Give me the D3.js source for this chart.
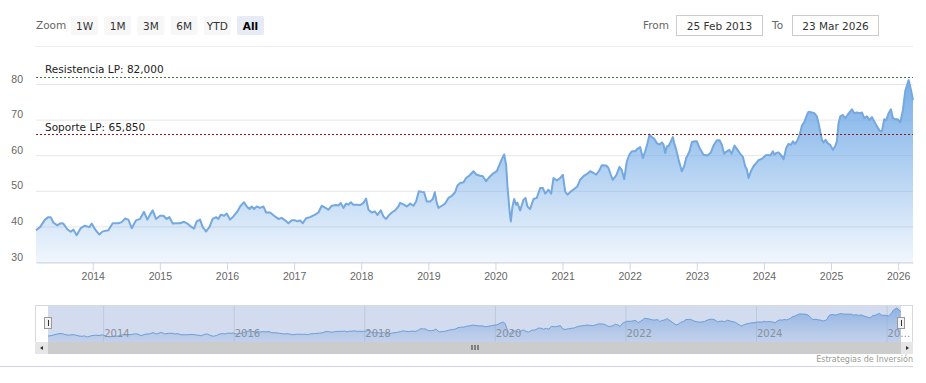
<!DOCTYPE html>
<html>
<head>
<meta charset="utf-8">
<script src="https://cdn.jsdelivr.net/npm/d3@7"></script>
<style>
  body { margin: 0; background: #fff; }
  svg { display: block; font-family: "DejaVu Sans", Verdana, sans-serif; }
</style>
</head>
<body>
<div id="chart"></div>
<script>
// price series as [decimal year, price]
const prices2013 = [
  [2013.155,38.9],[2013.215,39.8],[2013.289,41.9],[2013.339,42.6],[2013.374,42.6],[2013.413,41.1],[2013.473,40.3],
  [2013.523,40.9],[2013.562,40.8],[2013.622,39.2],[2013.672,38.5],[2013.712,39.1],[2013.761,37.5],[2013.821,39.5],
  [2013.885,40.2],[2013.950,39.8],[2013.985,40.8],[2014.034,39.2],[2014.099,37.7],[2014.149,38.6],[2014.233,38.9],
  [2014.298,40.9],[2014.382,40.9],[2014.432,41.2],[2014.481,42.2],[2014.531,41.9],[2014.581,39.5],[2014.645,41.7],
  [2014.705,42.1],[2014.764,44.1],[2014.814,41.9],[2014.854,43.3],[2014.894,44.5],[2014.943,42.1],[2015.003,43.0],
  [2015.053,43.0],[2015.102,42.1],[2015.142,42.6],[2015.192,40.8],[2015.252,40.9],[2015.301,40.9],[2015.361,41.3],
  [2015.411,40.8],[2015.460,40.0],[2015.510,39.4],[2015.549,41.4],[2015.599,41.9],[2015.639,39.8],[2015.689,38.6],
  [2015.738,39.8],[2015.788,42.1],[2015.838,42.6],[2015.872,42.1],[2015.907,43.3],[2015.957,43.0],[2015.997,43.6],
  [2016.046,41.9],[2016.096,42.8],[2016.156,44.2],[2016.196,45.6],[2016.255,46.8],[2016.295,45.6],[2016.335,44.9],
  [2016.369,45.6],[2016.404,44.9],[2016.444,45.6]
];
const prices2016 = [
  [2016.493,45.2],[2016.543,45.6],[2016.583,43.9],[2016.642,43.9],[2016.702,43.0],[2016.766,42.1],[2016.816,42.4],
  [2016.866,41.7],[2016.916,40.9],[2016.965,41.7],[2017.015,41.7],[2017.050,41.4],[2017.089,41.7],[2017.129,40.9],
  [2017.179,42.3],[2017.238,42.6],[2017.313,43.3],[2017.363,43.9],[2017.412,45.8],[2017.462,45.3],[2017.512,44.7],
  [2017.561,45.8],[2017.626,46.0],[2017.661,45.9],[2017.695,46.6],[2017.735,45.2],[2017.775,46.4],[2017.810,46.1],
  [2017.845,46.8],[2017.884,46.1],[2017.934,46.1],[2017.984,46.0],[2018.033,46.6],[2018.073,47.8],[2018.108,44.7],
  [2018.157,43.9],[2018.207,44.2],[2018.242,43.2],[2018.292,44.5],[2018.331,42.8],[2018.371,42.1],[2018.421,43.3],
  [2018.456,43.9],[2018.505,44.5],[2018.555,45.6],[2018.580,46.6],[2018.629,46.2],[2018.679,45.6],[2018.729,46.4],
  [2018.778,45.8],[2018.818,47.0],[2018.858,49.9],[2018.903,49.7],[2018.937,49.6],[2018.977,47.0],[2019.027,47.0],
  [2019.067,47.7],[2019.096,49.6],[2019.126,46.6],[2019.151,45.2],[2019.201,45.8],[2019.250,46.4],[2019.300,48.0],
  [2019.350,48.6],[2019.399,49.6],[2019.434,51.5],[2019.474,52.2],[2019.524,52.4],[2019.563,53.6],[2019.613,54.3],
  [2019.673,55.5],[2019.712,54.6],[2019.762,54.3],[2019.812,54.1],[2019.861,52.7],[2019.911,53.9],[2019.961,54.8]
];
const prices2020 = [
  [2020.020,55.5],[2020.060,57.3],[2020.095,58.9],[2020.130,60.2],[2020.159,57.3],[2020.179,51.3],[2020.209,44.7],
  [2020.229,41.4],[2020.254,45.6],[2020.279,47.7],[2020.308,46.1],[2020.328,46.6],[2020.368,44.5],[2020.418,47.5],
  [2020.448,48.0],[2020.477,45.6],[2020.517,44.9],[2020.567,47.7],[2020.616,48.0],[2020.666,50.8],[2020.706,50.8],
  [2020.741,49.2],[2020.790,50.3],[2020.830,49.2],[2020.865,53.6],[2020.915,52.9],[2020.964,53.6],[2021.004,54.5],
  [2021.039,49.8],[2021.073,48.9],[2021.123,49.8],[2021.173,50.5],[2021.222,51.3],[2021.262,53.1],[2021.312,54.1],
  [2021.372,54.8],[2021.411,55.5],[2021.461,55.0],[2021.501,54.5],[2021.550,55.8],[2021.585,57.2],[2021.650,57.1],
  [2021.684,56.4],[2021.719,54.5],[2021.749,53.1],[2021.799,54.3],[2021.848,56.7],[2021.883,55.8],[2021.918,53.3],
  [2021.958,58.3],[2021.997,60.2],[2022.032,61.1],[2022.082,61.1],[2022.117,61.8],[2022.156,62.3],[2022.196,59.2],
  [2022.231,61.1],[2022.266,63.4],[2022.296,65.8],[2022.330,65.1],[2022.365,64.6],[2022.405,63.4],[2022.445,63.0],
  [2022.480,63.6],[2022.504,63.0],[2022.529,60.6],[2022.554,62.5],[2022.579,62.5],[2022.614,63.9],[2022.643,65.1],
  [2022.663,63.4],[2022.693,61.6],[2022.728,58.8],[2022.777,55.5],[2022.812,56.9],[2022.842,59.2],[2022.892,61.1],
  [2022.927,63.7],[2022.976,63.9],[2023.001,63.9],[2023.041,62.0]
];
const prices2023 = [
  [2023.100,60.1],[2023.160,59.9],[2023.210,60.8],[2023.249,62.7],[2023.299,64.2],[2023.339,64.2],[2023.374,62.9],
  [2023.408,60.4],[2023.448,61.1],[2023.483,61.5],[2023.518,60.4],[2023.562,62.7],[2023.607,61.5],[2023.647,60.4],
  [2023.687,59.5],[2023.721,56.9],[2023.746,56.0],[2023.771,53.6],[2023.806,55.5],[2023.845,56.9],[2023.885,57.8],
  [2023.920,58.6],[2023.955,58.9],[2023.985,59.2],[2024.019,59.9],[2024.059,60.1],[2024.094,59.9],[2024.134,61.1],
  [2024.154,60.1],[2024.183,60.6],[2024.218,60.8],[2024.253,60.1],[2024.293,58.9],[2024.332,62.0],[2024.367,63.2],
  [2024.402,62.9],[2024.432,63.9],[2024.466,63.2],[2024.501,64.3],[2024.531,65.7],[2024.566,68.3],[2024.600,69.2],
  [2024.640,71.3],[2024.665,72.2],[2024.715,72.0],[2024.750,71.8],[2024.789,70.9],[2024.814,69.0],[2024.839,66.7],
  [2024.864,64.3],[2024.888,63.6],[2024.918,64.3],[2024.948,63.4],[2024.988,62.9],[2025.028,61.5],[2025.063,62.6],
  [2025.087,63.9],[2025.112,69.0],[2025.137,70.9],[2025.177,71.3],[2025.212,70.4],[2025.246,71.3],[2025.286,72.3],
  [2025.311,72.9],[2025.346,71.8],[2025.386,72.0],[2025.425,71.8],[2025.460,72.0],[2025.495,70.4],[2025.535,70.9],
  [2025.574,69.9],[2025.609,70.7],[2025.644,69.5],[2025.684,68.1],[2025.723,66.9],[2025.758,66.7],[2025.793,70.1],
  [2025.823,69.9],[2025.858,71.8],[2025.892,72.9],[2025.922,70.4],[2025.957,70.1],[2025.992,70.1],[2026.032,69.2],
  [2026.071,72.7],[2026.106,78.1],[2026.156,81.1],[2026.191,78.3],[2026.221,75.5]
];

const yTicks = [30, 40, 50, 60, 70, 80];
const xTicks = [2014, 2015, 2016, 2017, 2018, 2019, 2020, 2021, 2022, 2023, 2024, 2025, 2026];
const navTicks = [2014, 2016, 2018, 2020, 2022, 2024, 2026];
const levelNames = ["Resistencia LP: 82,000", "Soporte LP: 65,850"];
const levelValues = [82, 65.85];
const zoomButtons = ["1W", "1M", "3M", "6M", "YTD", "All"];
const rangeDates = ["25 Feb 2013", "23 Mar 2026"];
const credit = "Estrategias de Inversión";

const data = prices2013.concat(prices2016, prices2020, prices2023);

var width = 926, height = 383;
var plot = { left: 36, right: 913, top: 66.2, bottom: 262 };
var nav = { left: 48, right: 901, top: 305, bottom: 342 };
var fontSize = 10.5;

const svg = d3.select("#chart").append("svg")
  .attr("width", width)
  .attr("height", height);

const defs = svg.append("defs");
const grad = defs.append("linearGradient")
  .attr("id", "areaFill")
  .attr("gradientUnits", "userSpaceOnUse")
  .attr("x1", 0).attr("x2", 0)
  .attr("y1", plot.top).attr("y2", plot.bottom);
grad.append("stop").attr("offset", 0).attr("stop-color", "rgb(110,168,230)").attr("stop-opacity", 1);
grad.append("stop").attr("offset", 1).attr("stop-color", "rgb(110,168,230)").attr("stop-opacity", 0.1);

const navGrad = defs.append("linearGradient")
  .attr("id", "navFill")
  .attr("gradientUnits", "userSpaceOnUse")
  .attr("x1", 0).attr("x2", 0)
  .attr("y1", nav.top).attr("y2", nav.bottom);
navGrad.append("stop").attr("offset", 0).attr("stop-color", "#6f9fdc").attr("stop-opacity", 0.75);
navGrad.append("stop").attr("offset", 1).attr("stop-color", "#8fb0e0").attr("stop-opacity", 0.25);

// scales
var x = d3.scaleLinear()
  .domain(d3.extent(data, (d) => d[0]))
  .range([plot.left, plot.right]);

var y = d3.scaleLinear()
  .domain([30, 85])
  .range([plot.bottom, plot.top]);

// ---- range selector ----
svg.append("text")
  .attr("x", 36).attr("y", 29)
  .attr("font-size", fontSize)
  .attr("fill", "#666")
  .text("Zoom");

var btn = svg.append("g").selectAll("g")
  .data(zoomButtons)
  .join("g")
  .attr("transform", (d, i) => `translate(${71 + i * 33.2},16)`);

btn.append("rect")
  .attr("width", 27).attr("height", 19).attr("rx", 2)
  .attr("fill", (d) => (d === "All" ? "#e6ebf5" : "#f7f7f7"));

btn.append("text")
  .attr("x", 13.5).attr("y", 13.5)
  .attr("text-anchor", "middle")
  .attr("font-size", fontSize)
  .attr("font-weight", (d) => (d === "All" ? "bold" : "normal"))
  .attr("fill", (d) => (d === "All" ? "#000" : "#333"))
  .text((d) => d);

// From / To boxes
var dateBox = svg.append("g");
[["From", 643, 676], ["To", 772, 792]].forEach((b, i) => {
  dateBox.append("text")
    .attr("x", b[1]).attr("y", 29)
    .attr("font-size", fontSize)
    .attr("fill", "#666")
    .text(b[0]);
  dateBox.append("rect")
    .attr("x", b[2] + 0.5).attr("y", 15.5)
    .attr("width", 86).attr("height", 20)
    .attr("fill", "#fff")
    .attr("stroke", "#ccc");
  dateBox.append("text")
    .attr("x", b[2] + 43.5).attr("y", 29.5)
    .attr("text-anchor", "middle")
    .attr("font-size", fontSize)
    .attr("fill", "#333")
    .text(rangeDates[i]);
});

svg.append("line")
  .attr("x1", 35).attr("x2", 913)
  .attr("y1", 46.5).attr("y2", 46.5)
  .attr("stroke", "#eeeeee");

// ---- grid + y axis ----
svg.append("g")
  .attr("transform", `translate(${plot.left},0)`)
  .call(d3.axisLeft(y).tickValues(yTicks).tickSize(-(plot.right - plot.left)))
  .call((g) => g.select(".domain").remove())
  .call((g) => g.selectAll(".tick line").attr("stroke", "#e6e6e6"))
  .call((g) =>
    g.selectAll(".tick text")
      .attr("x", -13)
      .attr("dy", -2)
      .attr("fill", "#666")
      .attr("font-size", fontSize)
      .attr("font-family", null)
  );

// ---- area + line ----
var area = d3.area()
  .x((d) => x(d[0]))
  .y0(plot.bottom)
  .y1((d) => y(d[1]));

var line = d3.line()
  .x((d) => x(d[0]))
  .y((d) => y(d[1]));

svg.append("path")
  .datum(data)
  .attr("d", area)
  .attr("fill", "url(#areaFill)");

svg.append("path")
  .datum(data)
  .attr("d", line)
  .attr("fill", "none")
  .attr("stroke", "#74a8df")
  .attr("stroke-width", 2)
  .attr("stroke-linejoin", "round");

// ---- x axis ----
svg.append("g")
  .attr("transform", `translate(0,${plot.bottom + 0.5})`)
  .call(d3.axisBottom(x).tickValues(xTicks).tickFormat(d3.format("d")).tickSize(8).tickSizeOuter(0))
  .call((g) => g.select(".domain").attr("stroke", "#ccd6eb"))
  .call((g) => g.selectAll(".tick line").attr("stroke", "#ccd6eb"))
  .call((g) =>
    g.selectAll(".tick text")
      .attr("y", 17)
      .attr("dy", 0)
      .attr("fill", "#666")
      .attr("font-size", fontSize)
      .attr("font-family", null)
  );

// ---- plot lines (support / resistance) ----
var levelColors = ["#3b7a35", "#8c1b1b"];
var lv = svg.append("g").selectAll("g")
  .data(levelValues)
  .join("g");

lv.append("line")
  .attr("x1", plot.left).attr("x2", plot.right)
  .attr("y1", (d) => Math.round(y(d)) + 0.5)
  .attr("y2", (d) => Math.round(y(d)) + 0.5)
  .attr("stroke", (d, i) => levelColors[i])
  .attr("stroke-width", 1)
  .attr("stroke-dasharray", "2,2");

lv.append("text")
  .attr("x", 45)
  .attr("y", (d) => y(d) - 3.5)
  .attr("font-size", fontSize)
  .attr("fill", "#222")
  .text((d, i) => levelNames[i]);

// ---- navigator ----
var nx = d3.scaleLinear()
  .domain(x.domain())
  .range([nav.left, nav.right]);

var ny = d3.scaleLinear()
  .domain(d3.extent(data, (d) => d[1]))
  .range([nav.bottom - 5, nav.top + 3]);

svg.append("rect")
  .attr("x", nav.left).attr("y", nav.top)
  .attr("width", nav.right - nav.left)
  .attr("height", nav.bottom - nav.top)
  .attr("fill", "#d3dcef");

svg.append("g")
  .attr("transform", `translate(0,${nav.bottom})`)
  .call(d3.axisBottom(nx).tickValues(navTicks).tickFormat(d3.format("d")).tickSize(-(nav.bottom - nav.top)))
  .call((g) => g.select(".domain").remove())
  .call((g) => g.selectAll(".tick line").attr("stroke", "#bfc8dc"));

svg.append("path")
  .datum(data)
  .attr("d", d3.area().x((d) => nx(d[0])).y0(nav.bottom).y1((d) => ny(d[1])))
  .attr("fill", "url(#navFill)");

svg.append("path")
  .datum(data)
  .attr("d", d3.line().x((d) => nx(d[0])).y((d) => ny(d[1])))
  .attr("fill", "none")
  .attr("stroke", "#6d9dd8")
  .attr("stroke-width", 1);

// navigator labels drawn on top, last one clipped like the original
svg.append("g").selectAll("text")
  .data(navTicks)
  .join("text")
  .attr("x", (d) => nx(d) + 1)
  .attr("y", nav.bottom - 5)
  .attr("font-size", 10)
  .attr("fill", "#8a8f9a")
  .text((d, i) => (i === navTicks.length - 1 ? String(d).slice(0, 2) + "…" : d));

// outline
svg.append("rect")
  .attr("x", 35.5).attr("y", nav.top + 0.5)
  .attr("width", 877).attr("height", 354 - nav.top - 1)
  .attr("fill", "none")
  .attr("stroke", "#d6d9e0");

// handles
[nav.left, nav.right].forEach((hx) => {
  svg.append("rect")
    .attr("x", hx - 3.5).attr("y", 317.5)
    .attr("width", 7).attr("height", 11)
    .attr("fill", "#f2f2f2")
    .attr("stroke", "#999");
  svg.append("line")
    .attr("x1", hx + 0.5).attr("x2", hx + 0.5)
    .attr("y1", 320).attr("y2", 326)
    .attr("stroke", "#333");
});

// scrollbar
var sb = svg.append("g");
sb.append("rect")
  .attr("x", 35).attr("y", 342).attr("width", 878).attr("height", 12)
  .attr("fill", "#f2f2f2");
sb.append("rect")
  .attr("x", nav.left).attr("y", 342).attr("width", nav.right - nav.left).attr("height", 12)
  .attr("fill", "#cccccc");
sb.append("rect")
  .attr("x", 35).attr("y", 342).attr("width", 13).attr("height", 12)
  .attr("fill", "#e6e6e6");
sb.append("rect")
  .attr("x", nav.right).attr("y", 342).attr("width", 12).attr("height", 12)
  .attr("fill", "#e6e6e6");
sb.append("path")
  .attr("d", "M43,346 L40,348 L43,350 Z")
  .attr("fill", "#333");
sb.append("path")
  .attr("d", "M906,346 L909,348 L906,350 Z")
  .attr("fill", "#333");
[-3, 0, 3].forEach((o) => {
  sb.append("line")
    .attr("x1", (nav.left + nav.right) / 2 + o + 0.5)
    .attr("x2", (nav.left + nav.right) / 2 + o + 0.5)
    .attr("y1", 345).attr("y2", 350)
    .attr("stroke", "#333");
});

// credits + bottom border
svg.append("text")
  .attr("x", 913).attr("y", 362)
  .attr("text-anchor", "end")
  .attr("font-size", 8)
  .attr("fill", "#999")
  .text(credit);

svg.append("line")
  .attr("x1", 0).attr("x2", 913)
  .attr("y1", 366.5).attr("y2", 366.5)
  .attr("stroke", "#d5d8e2");
</script>
</body>
</html>
